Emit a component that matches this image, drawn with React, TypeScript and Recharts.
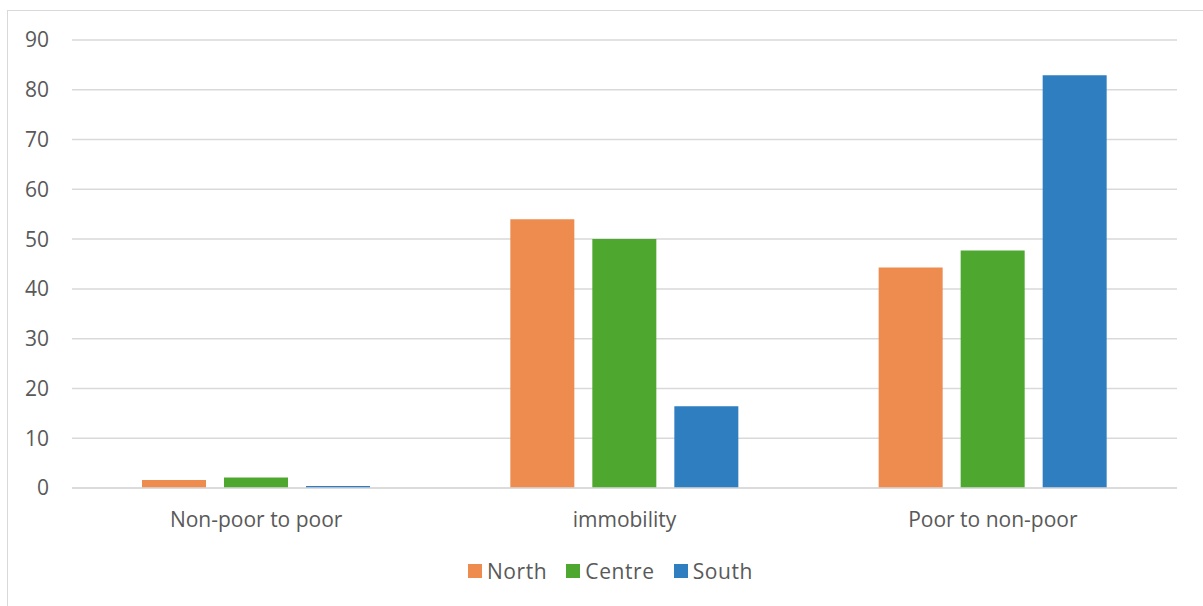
import React from 'react';
import { BarChart, Bar, XAxis, YAxis, CartesianGrid, Legend } from 'recharts';

const categories = ['Non-poor to poor', 'immobility', 'Poor to non-poor'];
const north = [1.6, 54, 44.3];
const centre = [2.1, 50, 47.7];
const south = [0.4, 16.4, 82.9];
const yTicks = [0, 10, 20, 30, 40, 50, 60, 70, 80, 90];

const seriesDefs = [
  { key: 'North', values: north, color: '#EE8B4F' },
  { key: 'Centre', values: centre, color: '#4EA72E' },
  { key: 'South', values: south, color: '#2F7EC0' },
];

const data = categories.map((c, i) => {
  const row: any = { name: c };
  seriesDefs.forEach((s) => (row[s.key] = s.values[i]));
  return row;
});

const FONT = '"Open Sans", sans-serif';
const TEXT = '#595959';

const LegendContent = () => (
  <div style={{ display: 'flex', justifyContent: 'center', alignItems: 'center', fontFamily: FONT, fontSize: 21, letterSpacing: 0.6, color: TEXT, height: 20, gap: 19, paddingLeft: 44 }}>
    {seriesDefs.map((s) => (
      <div key={s.key} style={{ display: 'flex', alignItems: 'center' }}>
        <span style={{ display: 'inline-block', width: 14, height: 14, background: s.color, marginRight: 5 }} />
        <span>{s.key}</span>
      </div>
    ))}
  </div>
);

export default function App() {
  return (
    <div style={{ position: 'fixed', left: 0, top: 0, width: 1203, height: 606, background: '#fff' }}>
      <div style={{ position: 'absolute', left: 7, top: 10, width: 1200, height: 600, border: '1px solid #d9d9d9', boxSizing: 'border-box' }} />
      <div style={{ position: 'absolute', left: 0, top: 0 }}>
        <BarChart
          width={1203}
          height={606}
          data={data}
          margin={{ top: 40, right: 26, left: 0, bottom: 58 }}
          barSize={64}
          barGap={18}
        >
          <CartesianGrid vertical={false} stroke="#d9d9d9" strokeWidth={1.5} />
          <XAxis
            dataKey="name"
            axisLine={{ stroke: '#d9d9d9', strokeWidth: 1.5 }}
            tickLine={false}
            tickSize={0}
            tickMargin={24}
            height={40}
            tick={{ fill: TEXT, fontSize: 21, fontFamily: FONT }}
          />
          <YAxis
            domain={[0, 90]}
            ticks={yTicks}
            width={72}
            axisLine={false}
            tickLine={false}
            tickSize={0}
            tickMargin={23}
            tick={{ fill: TEXT, fontSize: 21, fontFamily: FONT }}
          />
          <Legend
            verticalAlign="bottom"
            content={<LegendContent />}
            wrapperStyle={{ bottom: 25, height: 20 }}
          />
          {seriesDefs.map((s) => (
            <Bar key={s.key} dataKey={s.key} fill={s.color} isAnimationActive={false} />
          ))}
        </BarChart>
      </div>
    </div>
  );
}
